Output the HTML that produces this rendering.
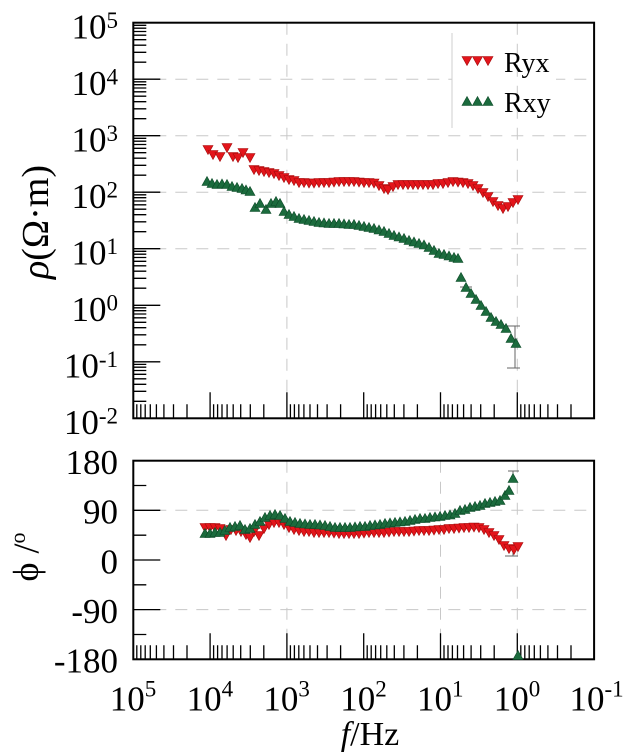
<!DOCTYPE html>
<html><head><meta charset="utf-8"><style>
html,body{margin:0;padding:0;background:#fff;}
svg{display:block;}
text{font-family:"Liberation Serif","DejaVu Serif",serif;fill:#000;}
</style></head><body>
<svg width="623" height="756" viewBox="0 0 623 756" xmlns="http://www.w3.org/2000/svg">
<defs>
<path id="dn" d="M-5-4.5h10l-5 9z" fill="#e3151b" stroke="#a30a0a" stroke-width=".6"/>
<path id="up" d="M-5 4.5h10l-5-9z" fill="#1b6b3d" stroke="#0d4a28" stroke-width=".6"/>
</defs>
<rect width="623" height="756" fill="#fff"/>

<g stroke="#c8c8c8" stroke-width="1" stroke-dasharray="12 9" fill="none">
<path d="M133.3 79.2H594.1M133.3 135.7H594.1M133.3 192.2H594.1M133.3 248.7H594.1"/>
</g>
<rect x="452" y="33" width="104" height="95" fill="#fff"/>
<line x1="452" y1="33" x2="452" y2="128" stroke="#cfcfcf" stroke-width="1"/>
<g stroke="#c8c8c8" stroke-width="1" stroke-dasharray="12 9" fill="none">
<path d="M286.9 22.7V418.3M517.3 22.7V418.3"/>
<path d="M133.3 510.3H594.1M133.3 609.6H594.1M286.9 460.7V659.3M440.5 460.7V659.3M517.3 460.7V659.3"/>
</g>

<g stroke="#000" stroke-width="1.3" fill="none">
<path d="M210.1 418.3v-26M286.9 418.3v-26M363.7 418.3v-26M440.5 418.3v-26M517.3 418.3v-26M594.1 418.3v-26"/>
<path d="M136.8 418.3v-14M140.8 418.3v-14M145.2 418.3v-14M150.3 418.3v-14M156.4 418.3v-14M163.9 418.3v-14M173.5 418.3v-14M187 418.3v-14M213.6 418.3v-14M217.6 418.3v-14M222 418.3v-14M227.1 418.3v-14M233.2 418.3v-14M240.7 418.3v-14M250.3 418.3v-14M263.8 418.3v-14M290.4 418.3v-14M294.4 418.3v-14M298.8 418.3v-14M303.9 418.3v-14M310 418.3v-14M317.5 418.3v-14M327.1 418.3v-14M340.6 418.3v-14M367.2 418.3v-14M371.2 418.3v-14M375.6 418.3v-14M380.7 418.3v-14M386.8 418.3v-14M394.3 418.3v-14M403.9 418.3v-14M417.4 418.3v-14M444 418.3v-14M448 418.3v-14M452.4 418.3v-14M457.5 418.3v-14M463.6 418.3v-14M471.1 418.3v-14M480.7 418.3v-14M494.2 418.3v-14M520.8 418.3v-14M524.8 418.3v-14M529.2 418.3v-14M534.3 418.3v-14M540.4 418.3v-14M547.9 418.3v-14M557.5 418.3v-14M571 418.3v-14"/>
<path d="M133.3 79.2h27M133.3 135.7h27M133.3 192.2h27M133.3 248.7h27M133.3 305.3h27M133.3 361.8h27"/>
<path d="M133.3 25.3h13M133.3 28.2h13M133.3 31.5h13M133.3 35.2h13M133.3 39.7h13M133.3 45.2h13M133.3 52.3h13M133.3 62.2h13M133.3 81.8h13M133.3 84.7h13M133.3 88h13M133.3 91.8h13M133.3 96.2h13M133.3 101.7h13M133.3 108.8h13M133.3 118.7h13M133.3 138.3h13M133.3 141.2h13M133.3 144.5h13M133.3 148.3h13M133.3 152.7h13M133.3 158.2h13M133.3 165.3h13M133.3 175.2h13M133.3 194.8h13M133.3 197.7h13M133.3 201h13M133.3 204.8h13M133.3 209.2h13M133.3 214.7h13M133.3 221.8h13M133.3 231.7h13M133.3 251.3h13M133.3 254.2h13M133.3 257.5h13M133.3 261.3h13M133.3 265.8h13M133.3 271.2h13M133.3 278.3h13M133.3 288.2h13M133.3 307.8h13M133.3 310.7h13M133.3 314h13M133.3 317.8h13M133.3 322.3h13M133.3 327.7h13M133.3 334.8h13M133.3 344.8h13M133.3 364.4h13M133.3 367.2h13M133.3 370.5h13M133.3 374.3h13M133.3 378.8h13M133.3 384.3h13M133.3 391.3h13M133.3 401.3h13"/>
<path d="M210.1 659.3v-26M286.9 659.3v-26M363.7 659.3v-26M440.5 659.3v-26M517.3 659.3v-26M594.1 659.3v-26"/>
<path d="M136.8 659.3v-14M140.8 659.3v-14M145.2 659.3v-14M150.3 659.3v-14M156.4 659.3v-14M163.9 659.3v-14M173.5 659.3v-14M187 659.3v-14M213.6 659.3v-14M217.6 659.3v-14M222 659.3v-14M227.1 659.3v-14M233.2 659.3v-14M240.7 659.3v-14M250.3 659.3v-14M263.8 659.3v-14M290.4 659.3v-14M294.4 659.3v-14M298.8 659.3v-14M303.9 659.3v-14M310 659.3v-14M317.5 659.3v-14M327.1 659.3v-14M340.6 659.3v-14M367.2 659.3v-14M371.2 659.3v-14M375.6 659.3v-14M380.7 659.3v-14M386.8 659.3v-14M394.3 659.3v-14M403.9 659.3v-14M417.4 659.3v-14M444 659.3v-14M448 659.3v-14M452.4 659.3v-14M457.5 659.3v-14M463.6 659.3v-14M471.1 659.3v-14M480.7 659.3v-14M494.2 659.3v-14M520.8 659.3v-14M524.8 659.3v-14M529.2 659.3v-14M534.3 659.3v-14M540.4 659.3v-14M547.9 659.3v-14M557.5 659.3v-14M571 659.3v-14"/>
<path d="M133.3 510.3h27M133.3 560h27M133.3 609.6h27M133.3 485.5h13M133.3 535.2h13M133.3 584.8h13M133.3 634.5h13"/>
</g>

<rect x="133.3" y="22.7" width="460.8" height="395.6" fill="none" stroke="#000" stroke-width="2"/>
<rect x="133.3" y="460.7" width="460.8" height="198.6" fill="none" stroke="#000" stroke-width="2"/>

<g stroke="#666" stroke-width="1" fill="none">
<path d="M515 326V368M507 326h13M507 368h13M460 287h12"/>
<path d="M513 471V478M508 471h11M513 550V556M505 556h13"/>
</g>

<g>
<use href="#dn" x="208" y="150"/><use href="#dn" x="213" y="155"/><use href="#dn" x="220" y="157"/><use href="#dn" x="227" y="148"/><use href="#dn" x="233" y="157"/><use href="#dn" x="238" y="158"/><use href="#dn" x="243" y="153"/><use href="#dn" x="250" y="158"/>
<use href="#dn" x="254" y="170"/><use href="#dn" x="259" y="171"/><use href="#dn" x="264" y="172"/><use href="#dn" x="269" y="173"/><use href="#dn" x="274" y="174"/><use href="#dn" x="279" y="176"/><use href="#dn" x="284" y="178"/><use href="#dn" x="289" y="180"/><use href="#dn" x="294" y="181"/><use href="#dn" x="299" y="183"/><use href="#dn" x="304" y="183"/><use href="#dn" x="309" y="183.5"/><use href="#dn" x="314" y="183.5"/><use href="#dn" x="319" y="183"/><use href="#dn" x="324" y="183"/><use href="#dn" x="329" y="183"/><use href="#dn" x="334" y="182.5"/><use href="#dn" x="339" y="182"/><use href="#dn" x="344" y="182"/><use href="#dn" x="349" y="182"/><use href="#dn" x="354" y="182"/><use href="#dn" x="359" y="182.5"/><use href="#dn" x="364" y="183"/><use href="#dn" x="369" y="183"/><use href="#dn" x="374" y="183.5"/><use href="#dn" x="379" y="186"/><use href="#dn" x="384" y="189"/><use href="#dn" x="388" y="190"/><use href="#dn" x="393" y="187"/><use href="#dn" x="398" y="185"/><use href="#dn" x="403" y="185"/><use href="#dn" x="408" y="185"/><use href="#dn" x="413" y="185"/><use href="#dn" x="418" y="185"/><use href="#dn" x="423" y="185"/><use href="#dn" x="428" y="185"/><use href="#dn" x="433" y="185"/><use href="#dn" x="438" y="184"/><use href="#dn" x="443" y="184"/><use href="#dn" x="448" y="183"/><use href="#dn" x="453" y="182"/><use href="#dn" x="458" y="182.5"/><use href="#dn" x="463" y="183"/><use href="#dn" x="468" y="184"/><use href="#dn" x="473" y="186"/><use href="#dn" x="478" y="189"/><use href="#dn" x="483" y="193"/><use href="#dn" x="488" y="197"/><use href="#dn" x="493" y="202"/><use href="#dn" x="498" y="206"/><use href="#dn" x="503" y="209"/><use href="#dn" x="508" y="207"/><use href="#dn" x="513" y="203"/><use href="#dn" x="518" y="200"/>
</g>
<g>
<use href="#up" x="207" y="181"/><use href="#up" x="212" y="183"/><use href="#up" x="217" y="184"/><use href="#up" x="222" y="183.5"/><use href="#up" x="227" y="184"/><use href="#up" x="232" y="186"/><use href="#up" x="237" y="187"/><use href="#up" x="242" y="188"/><use href="#up" x="246" y="189.5"/><use href="#up" x="250" y="191"/>
<use href="#up" x="255" y="207"/><use href="#up" x="260" y="203"/><use href="#up" x="266" y="209"/><use href="#up" x="271" y="203"/><use href="#up" x="276" y="201"/><use href="#up" x="280" y="203"/><use href="#up" x="284" y="211"/><use href="#up" x="289" y="214"/><use href="#up" x="294" y="216"/><use href="#up" x="299" y="218"/><use href="#up" x="304" y="219"/><use href="#up" x="309" y="220"/><use href="#up" x="314" y="221"/><use href="#up" x="319" y="222"/><use href="#up" x="324" y="222.5"/><use href="#up" x="329" y="223"/><use href="#up" x="334" y="223"/><use href="#up" x="339" y="223"/><use href="#up" x="344" y="223.5"/><use href="#up" x="349" y="224"/><use href="#up" x="354" y="224"/><use href="#up" x="359" y="225"/><use href="#up" x="364" y="226"/><use href="#up" x="369" y="227"/><use href="#up" x="374" y="228"/><use href="#up" x="379" y="229.5"/><use href="#up" x="384" y="231"/><use href="#up" x="389" y="233"/><use href="#up" x="394" y="235"/><use href="#up" x="399" y="236.5"/><use href="#up" x="404" y="238"/><use href="#up" x="409" y="240"/><use href="#up" x="414" y="241.5"/><use href="#up" x="419" y="243"/><use href="#up" x="424" y="244.5"/><use href="#up" x="429" y="247"/><use href="#up" x="434" y="250"/><use href="#up" x="439" y="253"/><use href="#up" x="444" y="254"/><use href="#up" x="449" y="255.5"/><use href="#up" x="454" y="257"/><use href="#up" x="458" y="258"/>
<use href="#up" x="461" y="277"/><use href="#up" x="466" y="287"/><use href="#up" x="471" y="293"/><use href="#up" x="476" y="299"/><use href="#up" x="481" y="305"/><use href="#up" x="486" y="311"/><use href="#up" x="491" y="317"/><use href="#up" x="496" y="321"/><use href="#up" x="501" y="324"/><use href="#up" x="506" y="328"/><use href="#up" x="511" y="338"/><use href="#up" x="516" y="343"/>
</g>

<g>
<use href="#dn" x="205" y="528"/><use href="#dn" x="210" y="528"/><use href="#dn" x="215" y="528"/><use href="#dn" x="220" y="529"/><use href="#dn" x="226" y="536"/><use href="#dn" x="231" y="530"/><use href="#dn" x="236" y="531"/><use href="#dn" x="241" y="532"/><use href="#dn" x="246" y="535"/><use href="#dn" x="250" y="538"/>
<use href="#dn" x="254" y="532"/><use href="#dn" x="259" y="536"/><use href="#dn" x="264" y="529"/><use href="#dn" x="269" y="525"/><use href="#dn" x="274" y="523"/><use href="#dn" x="279" y="523"/><use href="#dn" x="284" y="525"/><use href="#dn" x="289" y="528"/><use href="#dn" x="294" y="530"/><use href="#dn" x="299" y="531"/><use href="#dn" x="304" y="532"/><use href="#dn" x="309" y="532"/><use href="#dn" x="314" y="533"/><use href="#dn" x="319" y="533"/><use href="#dn" x="324" y="533"/><use href="#dn" x="329" y="533"/><use href="#dn" x="334" y="533.5"/><use href="#dn" x="339" y="534"/><use href="#dn" x="344" y="534"/><use href="#dn" x="349" y="534"/><use href="#dn" x="354" y="534"/><use href="#dn" x="359" y="534"/><use href="#dn" x="364" y="533.5"/><use href="#dn" x="369" y="533"/><use href="#dn" x="374" y="533"/><use href="#dn" x="379" y="533"/><use href="#dn" x="384" y="533"/><use href="#dn" x="389" y="532.5"/><use href="#dn" x="394" y="532"/><use href="#dn" x="399" y="532"/><use href="#dn" x="404" y="532"/><use href="#dn" x="409" y="532"/><use href="#dn" x="414" y="531.5"/><use href="#dn" x="419" y="531"/><use href="#dn" x="424" y="531"/><use href="#dn" x="429" y="531"/><use href="#dn" x="434" y="530.5"/><use href="#dn" x="439" y="530"/><use href="#dn" x="444" y="530"/><use href="#dn" x="449" y="529"/><use href="#dn" x="454" y="529"/><use href="#dn" x="459" y="528.5"/><use href="#dn" x="464" y="528"/><use href="#dn" x="469" y="528"/><use href="#dn" x="474" y="527.5"/><use href="#dn" x="479" y="528"/><use href="#dn" x="484" y="530"/><use href="#dn" x="489" y="533"/><use href="#dn" x="494" y="536"/><use href="#dn" x="499" y="540"/><use href="#dn" x="504" y="546"/><use href="#dn" x="509" y="549"/><use href="#dn" x="514" y="550"/><use href="#dn" x="518" y="547"/>
</g>
<g>
<use href="#up" x="205" y="533"/><use href="#up" x="210" y="533"/><use href="#up" x="215" y="532"/><use href="#up" x="220" y="532"/><use href="#up" x="225" y="530"/><use href="#up" x="230" y="527"/><use href="#up" x="235" y="526"/><use href="#up" x="240" y="525"/><use href="#up" x="245" y="529"/><use href="#up" x="250" y="528"/>
<use href="#up" x="255" y="524"/><use href="#up" x="260" y="521"/><use href="#up" x="265" y="517"/><use href="#up" x="270" y="515"/><use href="#up" x="275" y="514"/><use href="#up" x="280" y="515"/><use href="#up" x="285" y="518"/><use href="#up" x="290" y="521"/><use href="#up" x="295" y="522"/><use href="#up" x="300" y="523"/><use href="#up" x="305" y="523.5"/><use href="#up" x="310" y="524"/><use href="#up" x="315" y="524"/><use href="#up" x="320" y="524.5"/><use href="#up" x="325" y="525"/><use href="#up" x="330" y="526"/><use href="#up" x="335" y="527"/><use href="#up" x="340" y="527"/><use href="#up" x="345" y="527"/><use href="#up" x="350" y="527"/><use href="#up" x="355" y="526.5"/><use href="#up" x="360" y="526"/><use href="#up" x="365" y="526"/><use href="#up" x="370" y="525"/><use href="#up" x="375" y="524.5"/><use href="#up" x="380" y="524"/><use href="#up" x="385" y="523"/><use href="#up" x="390" y="522.5"/><use href="#up" x="395" y="522"/><use href="#up" x="400" y="521.5"/><use href="#up" x="405" y="521"/><use href="#up" x="410" y="520"/><use href="#up" x="415" y="519"/><use href="#up" x="420" y="518"/><use href="#up" x="425" y="518"/><use href="#up" x="430" y="517"/><use href="#up" x="435" y="516.5"/><use href="#up" x="440" y="516"/><use href="#up" x="445" y="515"/><use href="#up" x="450" y="514.5"/><use href="#up" x="455" y="513"/><use href="#up" x="460" y="510"/><use href="#up" x="465" y="509"/><use href="#up" x="470" y="507"/><use href="#up" x="475" y="506"/><use href="#up" x="480" y="505"/><use href="#up" x="485" y="503"/><use href="#up" x="490" y="502"/><use href="#up" x="495" y="501"/><use href="#up" x="500" y="500"/><use href="#up" x="505" y="495"/><use href="#up" x="509" y="490"/><use href="#up" x="513" y="478"/>
<use href="#up" x="518" y="655"/>
</g>

<g>
<use href="#dn" x="467" y="61"/><use href="#dn" x="477.5" y="61"/><use href="#dn" x="488" y="61"/>
<use href="#up" x="467" y="101"/><use href="#up" x="477.5" y="101"/><use href="#up" x="488" y="101"/>
</g>
<text x="504" y="72" font-size="28">Ryx</text>
<text x="504" y="112" font-size="28">Rxy</text>

<g font-size="35" text-anchor="end">
<text x="118" y="38.3">10<tspan dy="-10.5" font-size="23">5</tspan></text>
<text x="118" y="94.8">10<tspan dy="-10.5" font-size="23">4</tspan></text>
<text x="118" y="151.3">10<tspan dy="-10.5" font-size="23">3</tspan></text>
<text x="118" y="207.8">10<tspan dy="-10.5" font-size="23">2</tspan></text>
<text x="118" y="264.3">10<tspan dy="-10.5" font-size="23">1</tspan></text>
<text x="118" y="320.9">10<tspan dy="-10.5" font-size="23">0</tspan></text>
<text x="118" y="377.4">10<tspan dy="-10.5" font-size="23">-1</tspan></text>
<text x="118" y="433.9">10<tspan dy="-10.5" font-size="23">-2</tspan></text>
</g>
<g font-size="35" text-anchor="end">
<text x="118" y="474">180</text>
<text x="118" y="523.6">90</text>
<text x="118" y="573.3">0</text>
<text x="118" y="623">-90</text>
<text x="118" y="672.6">-180</text>
</g>
<g font-size="35">
<text x="109.8" y="710.7">10<tspan dy="-14" font-size="23">5</tspan></text>
<text x="186.6" y="710.7">10<tspan dy="-14" font-size="23">4</tspan></text>
<text x="263.4" y="710.7">10<tspan dy="-14" font-size="23">3</tspan></text>
<text x="340.2" y="710.7">10<tspan dy="-14" font-size="23">2</tspan></text>
<text x="417" y="710.7">10<tspan dy="-14" font-size="23">1</tspan></text>
<text x="493.8" y="710.7">10<tspan dy="-14" font-size="23">0</tspan></text>
<text x="569.5" y="710.7">10<tspan dy="-14" font-size="23">-1</tspan></text>
</g>
<text x="370" y="745" font-size="34" text-anchor="middle"><tspan font-style="italic">f</tspan>/Hz</text>

<text transform="translate(48,222) rotate(-90)" font-size="38" text-anchor="middle"><tspan font-style="italic">ρ</tspan>(Ω·m)</text>
<text transform="translate(38,557) rotate(-90)" font-size="36" text-anchor="middle">ϕ /<tspan dy="-13" font-size="22">o</tspan></text>
</svg>
</body></html>
